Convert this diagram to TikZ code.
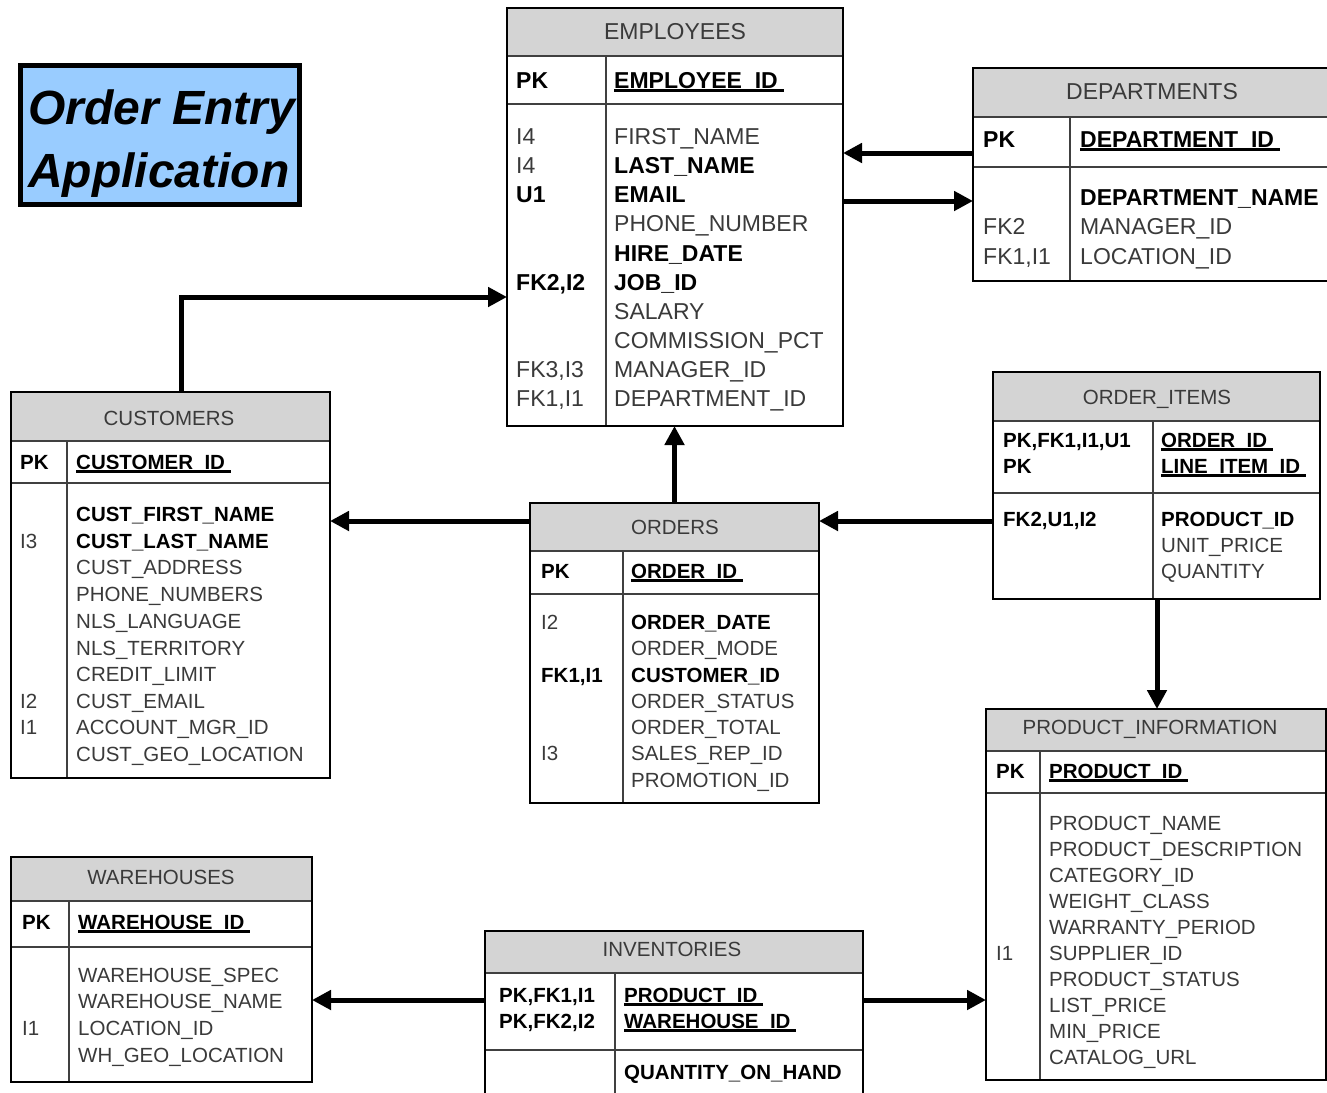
\documentclass[tikz,border=0pt]{standalone}
\usepackage{fontspec}
\setmainfont{Liberation Sans}
\usetikzlibrary{arrows.meta,fit}
\definecolor{hdrgray}{HTML}{D4D4D4}
\definecolor{txtgray}{HTML}{3A3A3A}
\definecolor{titleblue}{HTML}{99CCFF}
\newlength\pkw
\newcommand\pkul[1]{\settowidth\pkw{#1\ }\rlap{\rule[-3.5pt]{\pkw}{2.4pt}}#1}
\newcommand\B[1]{{\bfseries\color{black}#1}}
\def\tfont{\fontsize{23}{28}\selectfont}
\newcommand\trow[6]{\node[cell] (#1k) at (#2,#4) {#5};\node[cell] (#1f) at (#3,#4) {#6};}
% name, x1, y1, x2, y2, header bottom, pk bottom, divider x
\newcommand\tbl[8]{%
  \node[tblbox, fit={(#2,#3)(#4,#5)}] (#1) {};
  \fill[hdrgray] (#2,#3) rectangle (#4,#6);
  \draw[inline] (#2,#6) -- (#4,#6);
  \draw[inline] (#2,#7) -- (#4,#7);
  \draw[divline] (#8,#6) -- (#8,#5);
  \draw[line width=2pt] (#1.north west) rectangle (#1.south east);
}
\begin{document}
\begin{tikzpicture}[x=1pt,y=-1pt,
  tblbox/.style={inner sep=0pt, outer sep=0pt},
  inline/.style={line width=1.6pt, draw=black!75},
  divline/.style={line width=1.4pt, draw=black!75},
  cell/.style={anchor=base west, inner sep=0pt, text=txtgray, font=\tfont},
  ttl/.style={anchor=base, inner sep=0pt, text=txtgray, font=\tfont},
  conn/.style={line width=5pt, -{Triangle[length=19pt,width=19pt]}},
  titlebox/.style={draw=black, line width=5pt, fill=titleblue, inner sep=0pt},
  titletxt/.style={anchor=base west, inner sep=0pt, font=\fontsize{48}{56}\selectfont\bfseries\itshape}
]
\useasboundingbox (0,0) rectangle (1327,1092);
\fill[white] (0,0) rectangle (1327,1092);

% title
\node[titlebox, fit={(20.5,65.5)(299.5,204.5)}] (title) {};
\node[titletxt] (title1) at (28,124) {Order Entry};
\node[titletxt] (title2) at (28,187) {Application};

% EMPLOYEES
\def\tfont{\fontsize{23}{28}\selectfont}
\tbl{emp}{507}{8}{843}{426}{56}{104}{606}
\node[ttl] (empt) at (675,39) {EMPLOYEES};
\trow{emp0}{516}{614}{88}{\B{PK}}{\B{\pkul{EMPLOYEE\_ID}}}
\trow{emp1}{516}{614}{144}{I4}{FIRST\_NAME}
\trow{emp2}{516}{614}{173}{I4}{\B{LAST\_NAME}}
\trow{emp3}{516}{614}{202}{\B{U1}}{\B{EMAIL}}
\trow{emp4}{516}{614}{231}{}{PHONE\_NUMBER}
\trow{emp5}{516}{614}{261}{}{\B{HIRE\_DATE}}
\trow{emp6}{516}{614}{290}{\B{FK2,I2}}{\B{JOB\_ID}}
\trow{emp7}{516}{614}{319}{}{SALARY}
\trow{emp8}{516}{614}{348}{}{COMMISSION\_PCT}
\trow{emp9}{516}{614}{377}{FK3,I3}{MANAGER\_ID}
\trow{emp10}{516}{614}{406}{FK1,I1}{DEPARTMENT\_ID}

% DEPARTMENTS
\tbl{dep}{973}{68}{1331}{281}{117}{167}{1070}
\node[ttl] (dept) at (1152,99) {DEPARTMENTS};
\trow{dep0}{983}{1080}{147}{\B{PK}}{\B{\pkul{DEPARTMENT\_ID}}}
\trow{dep1}{983}{1080}{205}{}{\B{DEPARTMENT\_NAME}}
\trow{dep2}{983}{1080}{234}{FK2}{MANAGER\_ID}
\trow{dep3}{983}{1080}{264}{FK1,I1}{LOCATION\_ID}

% CUSTOMERS
\def\tfont{\fontsize{20.5}{25}\selectfont}
\tbl{cus}{11}{392}{330}{778}{441}{483}{67}
\node[ttl] (cust) at (169,425) {CUSTOMERS};
\trow{cus0}{20}{76}{469}{\B{PK}}{\B{\pkul{CUSTOMER\_ID}}}
\trow{cus1}{20}{76}{521}{}{\B{CUST\_FIRST\_NAME}}
\trow{cus2}{20}{76}{548}{I3}{\B{CUST\_LAST\_NAME}}
\trow{cus3}{20}{76}{574}{}{CUST\_ADDRESS}
\trow{cus4}{20}{76}{601}{}{PHONE\_NUMBERS}
\trow{cus5}{20}{76}{628}{}{NLS\_LANGUAGE}
\trow{cus6}{20}{76}{655}{}{NLS\_TERRITORY}
\trow{cus7}{20}{76}{681}{}{CREDIT\_LIMIT}
\trow{cus8}{20}{76}{708}{I2}{CUST\_EMAIL}
\trow{cus9}{20}{76}{734}{I1}{ACCOUNT\_MGR\_ID}
\trow{cus10}{20}{76}{761}{}{CUST\_GEO\_LOCATION}

% ORDERS
\tbl{ord}{530}{503}{819}{803}{551}{594}{623}
\node[ttl] (ordt) at (675,534) {ORDERS};
\trow{ord0}{541}{631}{578}{\B{PK}}{\B{\pkul{ORDER\_ID}}}
\trow{ord1}{541}{631}{629}{I2}{\B{ORDER\_DATE}}
\trow{ord2}{541}{631}{655}{}{ORDER\_MODE}
\trow{ord3}{541}{631}{682}{\B{FK1,I1}}{\B{CUSTOMER\_ID}}
\trow{ord4}{541}{631}{708}{}{ORDER\_STATUS}
\trow{ord5}{541}{631}{734}{}{ORDER\_TOTAL}
\trow{ord6}{541}{631}{760}{I3}{SALES\_REP\_ID}
\trow{ord7}{541}{631}{787}{}{PROMOTION\_ID}

% ORDER_ITEMS
\tbl{oi}{993}{372}{1320}{599}{421}{493}{1153}
\node[ttl] (oit) at (1157,404) {ORDER\_ITEMS};
\trow{oi0}{1003}{1161}{447}{\B{PK,FK1,I1,U1}}{\B{\pkul{ORDER\_ID}}}
\trow{oi1}{1003}{1161}{473}{\B{PK}}{\B{\pkul{LINE\_ITEM\_ID}}}
\trow{oi2}{1003}{1161}{526}{\B{FK2,U1,I2}}{\B{PRODUCT\_ID}}
\trow{oi3}{1003}{1161}{552}{}{UNIT\_PRICE}
\trow{oi4}{1003}{1161}{578}{}{QUANTITY}

% PRODUCT_INFORMATION
\tbl{pi}{986}{709}{1326}{1080}{751}{793}{1040}
\node[ttl] (pit) at (1150,734) {PRODUCT\_INFORMATION};
\trow{pi0}{996}{1049}{778}{\B{PK}}{\B{\pkul{PRODUCT\_ID}}}
\trow{pi1}{996}{1049}{830}{}{PRODUCT\_NAME}
\trow{pi2}{996}{1049}{856}{}{PRODUCT\_DESCRIPTION}
\trow{pi3}{996}{1049}{882}{}{CATEGORY\_ID}
\trow{pi4}{996}{1049}{908}{}{WEIGHT\_CLASS}
\trow{pi5}{996}{1049}{934}{}{WARRANTY\_PERIOD}
\trow{pi6}{996}{1049}{960}{I1}{SUPPLIER\_ID}
\trow{pi7}{996}{1049}{986}{}{PRODUCT\_STATUS}
\trow{pi8}{996}{1049}{1012}{}{LIST\_PRICE}
\trow{pi9}{996}{1049}{1038}{}{MIN\_PRICE}
\trow{pi10}{996}{1049}{1064}{}{CATALOG\_URL}

% WAREHOUSES
\tbl{wh}{11}{857}{312}{1082}{901}{947}{69}
\node[ttl] (wht) at (161,884) {WAREHOUSES};
\trow{wh0}{22}{78}{929}{\B{PK}}{\B{\pkul{WAREHOUSE\_ID}}}
\trow{wh1}{22}{78}{982}{}{WAREHOUSE\_SPEC}
\trow{wh2}{22}{78}{1008}{}{WAREHOUSE\_NAME}
\trow{wh3}{22}{78}{1035}{I1}{LOCATION\_ID}
\trow{wh4}{22}{78}{1062}{}{WH\_GEO\_LOCATION}

% INVENTORIES
\tbl{inv}{485}{931}{863}{1100}{973}{1050}{615}
\node[ttl] (invt) at (672,956) {INVENTORIES};
\trow{inv0}{499}{624}{1002}{\B{PK,FK1,I1}}{\B{\pkul{PRODUCT\_ID}}}
\trow{inv1}{499}{624}{1028}{\B{PK,FK2,I2}}{\B{\pkul{WAREHOUSE\_ID}}}
\trow{inv2}{499}{624}{1079}{}{\B{QUANTITY\_ON\_HAND}}

% connectors
\draw[conn] (dep.west |- 0,153) -- (emp.east |- 0,153);
\draw[conn] (emp.east |- 0,201) -- (dep.west |- 0,201);
\draw[conn] (cus.north -| 181,0) |- (emp.west |- 0,297);
\draw[conn] (ord.north) -- (emp.south -| ord.north);
\draw[conn] (ord.west |- 0,521) -- (cus.east |- 0,521);
\draw[conn] (oi.west |- 0,521) -- (ord.east |- 0,521);
\draw[conn] (oi.south -| 1157,0) -- (pi.north -| 1157,0);
\draw[conn] (inv.west |- 0,1000) -- (wh.east |- 0,1000);
\draw[conn] (inv.east |- 0,1000) -- (pi.west |- 0,1000);
\end{tikzpicture}
\end{document}
